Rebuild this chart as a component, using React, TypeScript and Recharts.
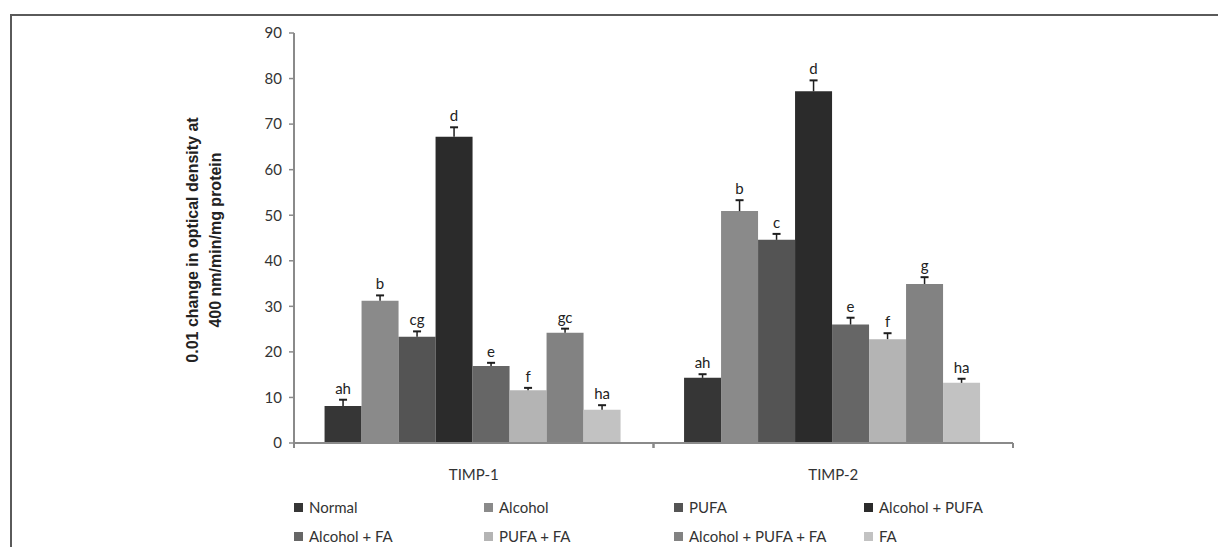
import React from "react";
import { BarChart, Bar, XAxis, YAxis, LabelList } from "recharts";

const categories = ["TIMP-1", "TIMP-2"];
const seriesNames = [
  "Normal",
  "Alcohol",
  "PUFA",
  "Alcohol + PUFA",
  "Alcohol + FA",
  "PUFA + FA",
  "Alcohol + PUFA + FA",
  "FA",
];
// values per series: [TIMP-1, TIMP-2]
const normal = [8.1, 14.3];
const alcohol = [31.2, 50.9];
const pufa = [23.3, 44.6];
const alcoholPufa = [67.2, 77.2];
const alcoholFa = [16.9, 26.0];
const pufaFa = [11.6, 22.8];
const alcoholPufaFa = [24.2, 34.9];
const fa = [7.3, 13.2];
const seriesValues = [normal, alcohol, pufa, alcoholPufa, alcoholFa, pufaFa, alcoholPufaFa, fa];

// standard error (drawn upward only)
const seriesErrors = [
  [1.4, 0.8],
  [1.2, 2.4],
  [1.2, 1.3],
  [2.1, 2.4],
  [0.7, 1.5],
  [0.5, 1.3],
  [0.9, 1.5],
  [1.0, 0.9],
];
const seriesLetters = [
  ["ah", "ah"],
  ["b", "b"],
  ["cg", "c"],
  ["d", "d"],
  ["e", "e"],
  ["f", "f"],
  ["gc", "g"],
  ["ha", "ha"],
];
const yTicks = [0, 10, 20, 30, 40, 50, 60, 70, 80, 90];

const colors = ["#363636", "#8a8a8a", "#545454", "#2b2b2b", "#666666", "#b4b4b4", "#828282", "#c2c2c2"];

const W = 1218;
const H = 547;
const M = { top: 33, right: 205, bottom: 74, left: 0 };
const Y_AXIS_W = 294;
const X_AXIS_H = 30;
const BAND = (W - M.left - M.right - Y_AXIS_W) / categories.length;

const data = categories.map((c, i) => {
  const row: Record<string, any> = { name: c };
  seriesValues.forEach((vals, s) => {
    row[`s${s}`] = vals[i];
    row[`l${s}`] = seriesLetters[s][i];
  });
  return row;
});

const XTick = (props: any) => {
  const { x, y, payload } = props;
  return (
    <g>
      <line x1={x - BAND / 2} x2={x - BAND / 2} y1={y} y2={y + 5} stroke="#888" strokeWidth={2} />
      <line x1={x + BAND / 2} x2={x + BAND / 2} y1={y} y2={y + 5} stroke="#888" strokeWidth={2} />
      <text x={x} y={y + 37} textAnchor="middle" fontFamily="Lato" fontSize={15} fill="#333">
        {payload.value}
      </text>
    </g>
  );
};

// error bar (upper half + cap) and significance letter above each bar
const errorAndLetter = (s: number) => (props: any) => {
  const { x, y, width, height, index, value } = props;
  const v = seriesValues[s][index];
  const pxPerUnit = Math.abs(height) / v;
  const capY = y - seriesErrors[s][index] * pxPerUnit;
  const cx = x + width / 2;
  return (
    <g>
      <line x1={cx} x2={cx} y1={y} y2={capY} stroke="#1e1e1e" strokeWidth={1.5} />
      <line x1={cx - 4} x2={cx + 4} y1={capY} y2={capY} stroke="#1e1e1e" strokeWidth={2} />
      <text x={cx} y={capY - 6} textAnchor="middle" fontFamily="Lato" fontSize={15} fill="#222">
        {value}
      </text>
    </g>
  );
};

export default function App() {
  return (
    <div
      style={{
        position: "absolute",
        left: 0,
        top: 0,
        width: W,
        height: H,
        overflow: "hidden",
        background: "#fff",
      }}
    >
      <div
        style={{
          position: "absolute",
          left: 10,
          top: 14,
          width: 1400,
          height: 700,
          border: "2px solid #5a5a5a",
        }}
      />
      <div style={{ position: "absolute", left: 0, top: 0 }}>
        <BarChart width={W} height={H} data={data} margin={M} barCategoryGap="8.5%" barGap={0}>
          <XAxis
            dataKey="name"
            height={X_AXIS_H}
            axisLine={{ stroke: "#8a8a8a", strokeWidth: 2 }}
            tickLine={false}
            tickSize={0}
            tickMargin={0}
            tick={<XTick />}
            interval={0}
          />
          <YAxis
            width={Y_AXIS_W}
            domain={[0, 90]}
            ticks={yTicks}
            interval={0}
            axisLine={{ stroke: "#8a8a8a", strokeWidth: 2 }}
            tickLine={{ stroke: "#8a8a8a", strokeWidth: 1.5 }}
            tickSize={5}
            tickMargin={7}
            tick={{ fontFamily: "Lato", fontSize: 15, fill: "#333" }}
          />
          {seriesNames.map((n, s) => (
            <Bar key={n} dataKey={`s${s}`} name={n} fill={colors[s]} isAnimationActive={false}>
              <LabelList dataKey={`l${s}`} content={errorAndLetter(s)} />
            </Bar>
          ))}
        </BarChart>
      </div>
      <svg style={{ position: "absolute", left: 0, top: 0 }} width={W} height={H} pointerEvents="none">
        <text
          transform="translate(203,240) rotate(-90)"
          fontFamily="Liberation Sans, Arial"
          fontWeight="bold"
          fontSize={16}
          fill="#222"
          textAnchor="middle"
        >
          <tspan x={0} y={-5}>0.01 change in optical density at</tspan>
          <tspan x={0} y={18}>400 nm/min/mg protein</tspan>
        </text>
      </svg>
      {seriesNames.map((n, s) => (
        <div
          key={n}
          style={{
            position: "absolute",
            left: 294 + (s % 4) * 190,
            top: 507 + Math.floor(s / 4) * 29 - 10,
            height: 20,
            display: "flex",
            alignItems: "center",
            fontFamily: "Lato",
            fontSize: 15,
            color: "#333",
            whiteSpace: "nowrap",
          }}
        >
          <span style={{ width: 9, height: 9, background: colors[s], marginRight: 6, display: "inline-block" }} />
          {n}
        </div>
      ))}
    </div>
  );
}
